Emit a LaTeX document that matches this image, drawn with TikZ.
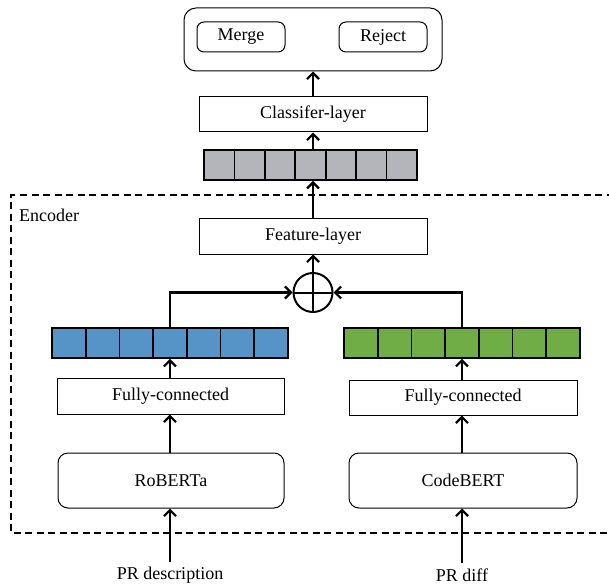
\documentclass[tikz,border=0pt]{standalone}
\usepackage{fontspec}
\setmainfont{Liberation Serif}
\usetikzlibrary{arrows.meta}
\definecolor{vblue}{RGB}{86,148,200}
\definecolor{vgreen}{RGB}{112,173,71}
\definecolor{vgray}{RGB}{180,181,186}
\begin{document}
\begin{tikzpicture}[x=1pt,y=-1pt,
 every node/.style={font=\fontsize{18}{20}\selectfont},
 box/.style={draw,line width=1pt,inner sep=0pt},
 rbox/.style={draw,line width=1pt,rounded corners=9pt,inner sep=0pt},
 cell/.style={draw,line width=1.8pt,minimum width=33.7pt,minimum height=30pt,inner sep=0pt},
 arr/.style={line width=2.6pt,-{Straight Barb[length=6pt,width=12pt,line width=2.2pt]}},
 encbox/.style={line width=1.3pt,dash pattern=on 7pt off 4.5pt}]
\useasboundingbox (0,0) rectangle (609,585);

% output box
\node[rbox,rounded corners=12pt,minimum width=258pt,minimum height=63pt] (out) at (313,39.5) {};
\node[rbox,rounded corners=7pt,minimum width=88pt,minimum height=30pt] (merge) at (241,37) {Merge};
\node[rbox,rounded corners=7pt,minimum width=88pt,minimum height=30pt] (reject) at (383,37) {Reject};

\node[box,minimum width=228pt,minimum height=35pt] (cls) at (313,114.5) {Classifer-layer};

\foreach \i in {1,...,7}
  \node[cell,fill=vgray,minimum width=30.4pt] (g\i) at ({204+30.4*(\i-0.5)},165) {};

% encoder
\draw[encbox] (625,195) -- (11,195) -- (11,533) -- (625,533);
\node[anchor=west,inner sep=0pt] (enc) at (19,215) {Encoder};

\node[box,minimum width=228pt,minimum height=36pt] (feat) at (313,236) {Feature-layer};

\node[draw,circle,line width=2pt,minimum size=39pt,inner sep=0pt,
  path picture={\draw[line width=2pt] (path picture bounding box.north) -- (path picture bounding box.south)
     (path picture bounding box.west) -- (path picture bounding box.east);}] (plus) at (313,292.5) {};

\foreach \i in {1,...,7}
  \node[cell,fill=vblue] (b\i) at ({52+33.7*(\i-0.5)},343) {};
\foreach \i in {1,...,7}
  \node[cell,fill=vgreen] (r\i) at ({344+33.7*(\i-0.5)},343) {};

\node[box,minimum width=227pt,minimum height=36pt] (fc1) at (170.5,396) {Fully-connected};
\node[box,minimum width=228pt,minimum height=35pt] (fc2) at (463,397.5) {Fully-connected};

\node[rbox,rounded corners=10pt,minimum width=226pt,minimum height=55pt] (rob) at (171,480.5) {RoBERTa};
\node[rbox,rounded corners=10pt,minimum width=228pt,minimum height=55pt] (code) at (463,480.5) {\raisebox{-9pt}{CodeBERT}};

\node[inner sep=1pt] (in1) at (170,575) {PR description};
\node[inner sep=1pt] (in2) at (462,575) {PR diff};

% connectors
\draw[arr] (cls.north) -- (out.south);
\draw[arr] (g4.north -| cls.south) -- (cls.south);
\draw[arr] (feat.north) -- (feat.north |- g4.south);
\draw[arr] (plus.north) -- (feat.south);
\draw[arr] (b4.north) |- (plus.west);
\draw[arr] (r4.north) |- (plus.east);
\draw[arr] (fc1.north -| b4.south) -- (b4.south);
\draw[arr] (fc2.north -| r4.south) -- (r4.south);
\draw[arr] (rob.north -| b4.south) -- (b4.south |- fc1.south);
\draw[arr] (code.north -| r4.south) -- (r4.south |- fc2.south);
\draw[arr] ([yshift=4pt]in1.north) -- (in1.north |- rob.south);
\draw[arr] ([yshift=4pt]in2.north) -- (in2.north |- code.south);
\end{tikzpicture}
\end{document}
